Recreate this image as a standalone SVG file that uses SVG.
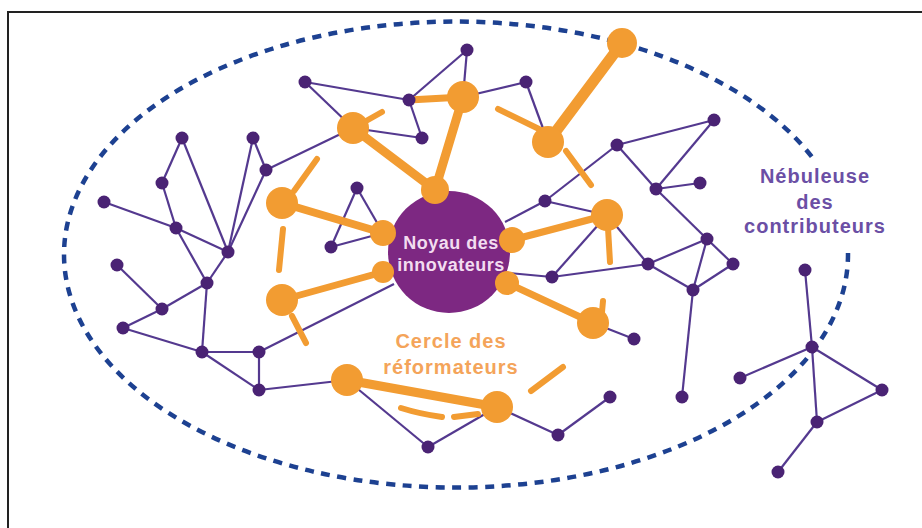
<svg xmlns="http://www.w3.org/2000/svg" width="922" height="528" viewBox="0 0 922 528">
<style>
.e{stroke:#54398f;stroke-width:2.2;fill:none}
.t{stroke:#f29c32;fill:none;stroke-linecap:round}
.s{stroke:#f29c32;stroke-width:6;fill:none;stroke-linecap:round}
.p{fill:#4a2374}
.o{fill:#f29c32}
.txt{font-family:"Liberation Sans",Arial,sans-serif;font-weight:bold;text-anchor:middle}
</style>
<rect width="922" height="528" fill="#ffffff"/>
<path d="M8 530 V12 H924" fill="none" stroke="#222" stroke-width="2"/>
<g id="nebuleuse-boundary">
<path d="M848 253 A392 233 0 1 1 812 157" fill="none" stroke="#1d4191" stroke-width="4.5" stroke-dasharray="9 7.5"/>
</g>
<g id="connectors">
<g class="e">
<line x1="305" y1="82" x2="409" y2="100"/>
<line x1="305" y1="82" x2="353" y2="128"/>
<line x1="409" y1="100" x2="467" y2="50"/>
<line x1="467" y1="50" x2="463" y2="97"/>
<line x1="409" y1="100" x2="422" y2="138"/>
<line x1="353" y1="128" x2="422" y2="138"/>
<line x1="463" y1="97" x2="526" y2="82"/>
<line x1="526" y1="82" x2="548" y2="142"/>
<line x1="182" y1="138" x2="162" y2="183"/>
<line x1="182" y1="138" x2="228" y2="252"/>
<line x1="162" y1="183" x2="176" y2="228"/>
<line x1="104" y1="202" x2="176" y2="228"/>
<line x1="176" y1="228" x2="228" y2="252"/>
<line x1="176" y1="228" x2="207" y2="283"/>
<line x1="253" y1="138" x2="266" y2="170"/>
<line x1="253" y1="138" x2="228" y2="252"/>
<line x1="266" y1="170" x2="228" y2="252"/>
<line x1="266" y1="170" x2="353" y2="128"/>
<line x1="228" y1="252" x2="207" y2="283"/>
<line x1="117" y1="265" x2="162" y2="309"/>
<line x1="207" y1="283" x2="162" y2="309"/>
<line x1="162" y1="309" x2="123" y2="328"/>
<line x1="123" y1="328" x2="202" y2="352"/>
<line x1="207" y1="283" x2="202" y2="352"/>
<line x1="202" y1="352" x2="259" y2="352"/>
<line x1="202" y1="352" x2="259" y2="390"/>
<line x1="259" y1="352" x2="259" y2="390"/>
<line x1="259" y1="352" x2="394" y2="284"/>
<line x1="259" y1="390" x2="347" y2="380"/>
<line x1="357" y1="188" x2="331" y2="247"/>
<line x1="357" y1="188" x2="383" y2="233"/>
<line x1="331" y1="247" x2="383" y2="233"/>
<line x1="545" y1="201" x2="617" y2="145"/>
<line x1="545" y1="201" x2="607" y2="215"/>
<line x1="545" y1="201" x2="505" y2="222"/>
<line x1="617" y1="145" x2="714" y2="120"/>
<line x1="714" y1="120" x2="656" y2="189"/>
<line x1="617" y1="145" x2="656" y2="189"/>
<line x1="656" y1="189" x2="700" y2="183"/>
<line x1="656" y1="189" x2="707" y2="239"/>
<line x1="607" y1="215" x2="552" y2="277"/>
<line x1="607" y1="215" x2="648" y2="264"/>
<line x1="552" y1="277" x2="648" y2="264"/>
<line x1="552" y1="277" x2="509" y2="273"/>
<line x1="648" y1="264" x2="707" y2="239"/>
<line x1="648" y1="264" x2="693" y2="290"/>
<line x1="707" y1="239" x2="693" y2="290"/>
<line x1="707" y1="239" x2="733" y2="264"/>
<line x1="733" y1="264" x2="693" y2="290"/>
<line x1="693" y1="290" x2="682" y2="397"/>
<line x1="593" y1="323" x2="634" y2="339"/>
<line x1="347" y1="380" x2="428" y2="447"/>
<line x1="428" y1="447" x2="497" y2="407"/>
<line x1="497" y1="407" x2="558" y2="435"/>
<line x1="558" y1="435" x2="610" y2="397"/>
<line x1="805" y1="270" x2="812" y2="347"/>
<line x1="812" y1="347" x2="740" y2="378"/>
<line x1="812" y1="347" x2="882" y2="390"/>
<line x1="812" y1="347" x2="817" y2="422"/>
<line x1="817" y1="422" x2="882" y2="390"/>
<line x1="817" y1="422" x2="778" y2="472"/>
</g>
<g class="t">
<line x1="622" y1="43" x2="548" y2="142" stroke-width="11"/>
<line x1="463" y1="97" x2="435" y2="190" stroke-width="9"/>
<line x1="353" y1="128" x2="435" y2="190" stroke-width="9"/>
<line x1="409" y1="100" x2="463" y2="97" stroke-width="7"/>
<line x1="282" y1="203" x2="383" y2="233" stroke-width="8"/>
<line x1="282" y1="300" x2="383" y2="272" stroke-width="7"/>
<line x1="512" y1="240" x2="607" y2="215" stroke-width="7"/>
<line x1="507" y1="283" x2="593" y2="323" stroke-width="7"/>
<line x1="347" y1="380" x2="497" y2="407" stroke-width="9"/>
</g>
<g id="cercle-reformateurs" class="s">
<line x1="366" y1="121" x2="382" y2="112"/>
<line x1="498" y1="109" x2="539" y2="129"/>
<line x1="566" y1="151" x2="591" y2="185"/>
<line x1="608" y1="228" x2="610" y2="262"/>
<line x1="603" y1="301" x2="602" y2="312"/>
<line x1="531" y1="391" x2="563" y2="367"/>
<path d="M401 408 Q420 414 442 417"/>
<line x1="454" y1="417" x2="478" y2="414"/>
<line x1="292" y1="316" x2="306" y2="343"/>
<line x1="283" y1="229" x2="279" y2="270"/>
<line x1="294" y1="191" x2="317" y2="159"/>
</g>
</g>
<g id="noyau">
<circle cx="449" cy="252" r="61" fill="#7d2882"/>
<text class="txt" x="451" y="249" font-size="18" letter-spacing="0.5" fill="#f2dcf0">Noyau des</text>
<text class="txt" x="451" y="271" font-size="18" letter-spacing="0.5" fill="#f2dcf0">innovateurs</text>
</g>
<g id="reformateurs">
<g id="o1"><circle class="o" cx="622" cy="43" r="15"/></g>
<g id="o2"><circle class="o" cx="548" cy="142" r="16"/></g>
<g id="o3"><circle class="o" cx="463" cy="97" r="16"/></g>
<g id="o4"><circle class="o" cx="353" cy="128" r="16"/></g>
<g id="o5"><circle class="o" cx="435" cy="190" r="14"/></g>
<g id="o6"><circle class="o" cx="383" cy="233" r="13"/></g>
<g id="o7"><circle class="o" cx="383" cy="272" r="11"/></g>
<g id="o8"><circle class="o" cx="512" cy="240" r="13"/></g>
<g id="o9"><circle class="o" cx="507" cy="283" r="12"/></g>
<g id="o10"><circle class="o" cx="607" cy="215" r="16"/></g>
<g id="o11"><circle class="o" cx="593" cy="323" r="16"/></g>
<g id="o12"><circle class="o" cx="282" cy="203" r="16"/></g>
<g id="o13"><circle class="o" cx="282" cy="300" r="16"/></g>
<g id="o14"><circle class="o" cx="347" cy="380" r="16"/></g>
<g id="o15"><circle class="o" cx="497" cy="407" r="16"/></g>
</g>
<g id="contributeurs">
<g id="p1"><circle class="p" cx="305" cy="82" r="6.5"/></g>
<g id="p2"><circle class="p" cx="467" cy="50" r="6.5"/></g>
<g id="p3"><circle class="p" cx="409" cy="100" r="6.5"/></g>
<g id="p4"><circle class="p" cx="422" cy="138" r="6.5"/></g>
<g id="p5"><circle class="p" cx="526" cy="82" r="6.5"/></g>
<g id="p6"><circle class="p" cx="182" cy="138" r="6.5"/></g>
<g id="p7"><circle class="p" cx="253" cy="138" r="6.5"/></g>
<g id="p8"><circle class="p" cx="266" cy="170" r="6.5"/></g>
<g id="p9"><circle class="p" cx="162" cy="183" r="6.5"/></g>
<g id="p10"><circle class="p" cx="104" cy="202" r="6.5"/></g>
<g id="p11"><circle class="p" cx="176" cy="228" r="6.5"/></g>
<g id="p12"><circle class="p" cx="228" cy="252" r="6.5"/></g>
<g id="p13"><circle class="p" cx="117" cy="265" r="6.5"/></g>
<g id="p14"><circle class="p" cx="207" cy="283" r="6.5"/></g>
<g id="p15"><circle class="p" cx="162" cy="309" r="6.5"/></g>
<g id="p16"><circle class="p" cx="123" cy="328" r="6.5"/></g>
<g id="p17"><circle class="p" cx="202" cy="352" r="6.5"/></g>
<g id="p18"><circle class="p" cx="259" cy="352" r="6.5"/></g>
<g id="p19"><circle class="p" cx="259" cy="390" r="6.5"/></g>
<g id="p20"><circle class="p" cx="357" cy="188" r="6.5"/></g>
<g id="p21"><circle class="p" cx="331" cy="247" r="6.5"/></g>
<g id="p22"><circle class="p" cx="545" cy="201" r="6.5"/></g>
<g id="p23"><circle class="p" cx="617" cy="145" r="6.5"/></g>
<g id="p24"><circle class="p" cx="714" cy="120" r="6.5"/></g>
<g id="p25"><circle class="p" cx="656" cy="189" r="6.5"/></g>
<g id="p26"><circle class="p" cx="700" cy="183" r="6.5"/></g>
<g id="p27"><circle class="p" cx="707" cy="239" r="6.5"/></g>
<g id="p28"><circle class="p" cx="648" cy="264" r="6.5"/></g>
<g id="p29"><circle class="p" cx="733" cy="264" r="6.5"/></g>
<g id="p30"><circle class="p" cx="693" cy="290" r="6.5"/></g>
<g id="p31"><circle class="p" cx="552" cy="277" r="6.5"/></g>
<g id="p32"><circle class="p" cx="634" cy="339" r="6.5"/></g>
<g id="p33"><circle class="p" cx="682" cy="397" r="6.5"/></g>
<g id="p34"><circle class="p" cx="610" cy="397" r="6.5"/></g>
<g id="p35"><circle class="p" cx="558" cy="435" r="6.5"/></g>
<g id="p36"><circle class="p" cx="428" cy="447" r="6.5"/></g>
<g id="p37"><circle class="p" cx="805" cy="270" r="6.5"/></g>
<g id="p38"><circle class="p" cx="812" cy="347" r="6.5"/></g>
<g id="p39"><circle class="p" cx="740" cy="378" r="6.5"/></g>
<g id="p40"><circle class="p" cx="882" cy="390" r="6.5"/></g>
<g id="p41"><circle class="p" cx="817" cy="422" r="6.5"/></g>
<g id="p42"><circle class="p" cx="778" cy="472" r="6.5"/></g>
</g>
<g id="label-cercle">
<text class="txt" x="451" y="348" font-size="20" letter-spacing="1" fill="#f4a45a">Cercle des</text>
<text class="txt" x="451" y="374" font-size="20" letter-spacing="1" fill="#f4a45a">réformateurs</text>
</g>
<g id="label-nebuleuse">
<text class="txt" x="815" y="183" font-size="20" letter-spacing="1" fill="#6b4fa5">Nébuleuse</text>
<text class="txt" x="815" y="209" font-size="20" letter-spacing="1" fill="#6b4fa5">des</text>
<text class="txt" x="815" y="233" font-size="20" letter-spacing="1" fill="#6b4fa5">contributeurs</text>
</g>
</svg>
